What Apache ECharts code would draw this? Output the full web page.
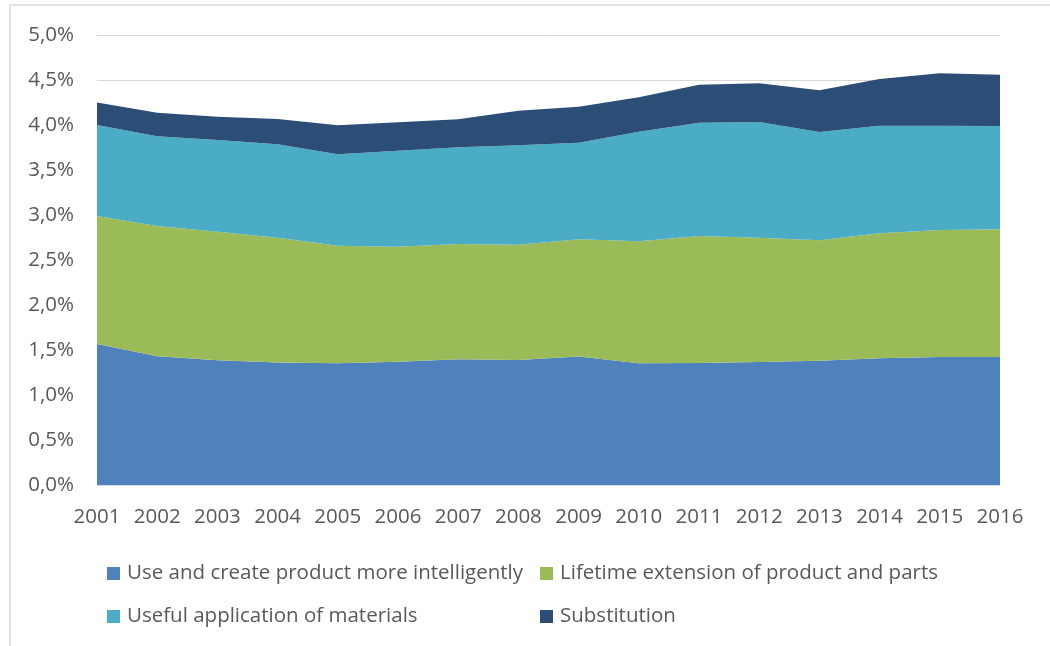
<!DOCTYPE html>
<html>
<head>
<meta charset="utf-8">
<script src="https://cdn.jsdelivr.net/npm/echarts@6/dist/echarts.min.js"></script>
<style>
html,body{margin:0;padding:0;background:#fff;}
#chart{width:1050px;height:646px;}
</style>
</head>
<body>
<div id="chart"></div>
<script>
const years = ['2001','2002','2003','2004','2005','2006','2007','2008','2009','2010','2011','2012','2013','2014','2015','2016'];
const seriesNames = ['Use and create product more intelligently','Lifetime extension of product and parts','Useful application of materials','Substitution'];
// values in percent
const intelligently = [1.567,1.430,1.385,1.360,1.352,1.370,1.396,1.389,1.428,1.352,1.356,1.367,1.381,1.407,1.422,1.422];
const lifetime      = [1.423,1.448,1.430,1.388,1.307,1.278,1.282,1.281,1.302,1.355,1.411,1.381,1.338,1.389,1.411,1.419];
const materials     = [1.010,0.996,1.018,1.037,1.015,1.067,1.074,1.104,1.074,1.219,1.259,1.285,1.203,1.197,1.160,1.148];
const substitution  = [0.250,0.263,0.260,0.282,0.322,0.315,0.311,0.385,0.400,0.381,0.422,0.430,0.463,0.518,0.581,0.570];
const colors = ['#4F81BD','#9BBB59','#4BACC6','#2C4D75'];
const values = [intelligently, lifetime, materials, substitution];

const font = 'Open Sans';
const fs = 20.5;
const chart = echarts.init(document.getElementById('chart'));
const legendPos = [[107,563],[540,563],[107,606],[540,606]];
chart.setOption({
  animation:false,
  textStyle:{fontFamily:font},
  graphic:[{type:'rect',shape:{x:10,y:5,width:1100,height:700},style:{fill:'none',stroke:'#D9D9D9',lineWidth:1.5},silent:true}],
  legend: seriesNames.map((n,i)=>({
    data:[n], left:legendPos[i][0], top:legendPos[i][1], padding:0, icon:'rect', itemWidth:13, itemHeight:13, itemGap:6,
    textStyle:{fontFamily:font,fontSize:fs,color:'#595959',padding:[0,0,0,2]}, selectedMode:false
  })),
  grid:{left:97,right:50,top:35,bottom:161,containLabel:false},
  xAxis:{type:'category',data:years,boundaryGap:false,
    axisLine:{lineStyle:{color:'#D9D9D9',width:1}},axisTick:{show:false},
    axisLabel:{interval:0,fontFamily:font,fontSize:fs,color:'#595959',margin:22}},
  yAxis:{type:'value',min:0,max:5,interval:0.5,
    axisLine:{show:false},axisTick:{show:false},
    splitLine:{lineStyle:{color:'#D9D9D9',width:1}},
    axisLabel:{fontFamily:font,fontSize:fs,color:'#595959',margin:23,formatter:v=>v.toFixed(1).replace('.',',')+'%'}},
  series: seriesNames.map((n,i)=>({
    name:n,type:'line',stack:'total',data:values[i],showSymbol:false,
    lineStyle:{width:0},areaStyle:{color:colors[i],opacity:1},itemStyle:{color:colors[i]}
  }))
});
</script>
</body>
</html>
